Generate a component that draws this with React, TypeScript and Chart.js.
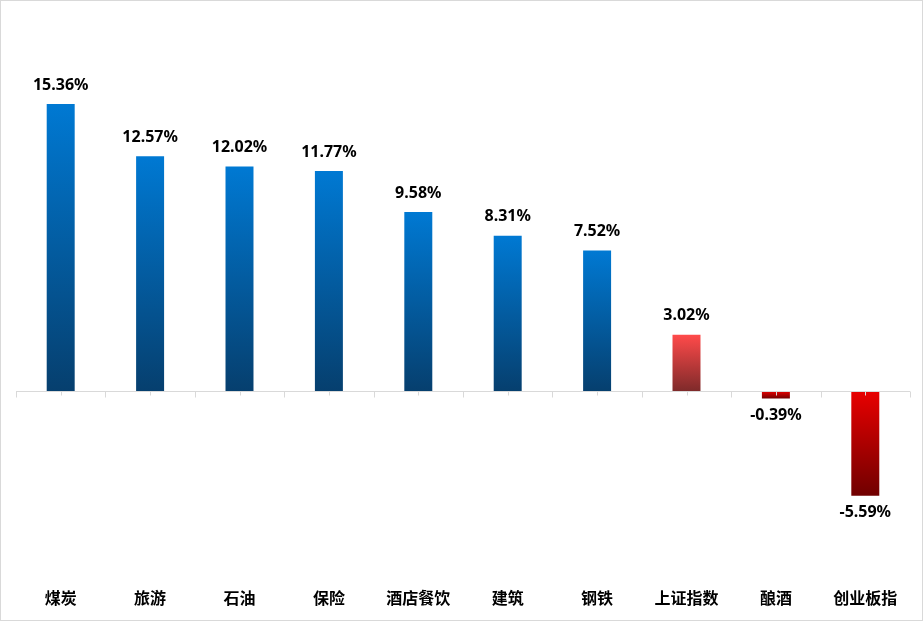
import React, { useEffect, useRef } from "react";
import { Chart, registerables } from "chart.js";

Chart.register(...registerables);

const categories = ["煤炭", "旅游", "石油", "保险", "酒店餐饮", "建筑", "钢铁", "上证指数", "酿酒", "创业板指"];
const changes = [15.36, 12.57, 12.02, 11.77, 9.58, 8.31, 7.52, 3.02, -0.39, -5.59];
const valueLabels = ["15.36%", "12.57%", "12.02%", "11.77%", "9.58%", "8.31%", "7.52%", "3.02%", "-0.39%", "-5.59%"];
const indexCategory = "上证指数";

const W = 924;
const H = 621;

function barFill(ctx: any) {
  const chart = ctx.chart;
  const i = ctx.dataIndex;
  const v = changes[i];
  const yScale = chart.scales?.y;
  if (!yScale || !chart.chartArea) return "#0078D4";
  const y0 = yScale.getPixelForValue(0);
  const y1 = yScale.getPixelForValue(v);
  const g = chart.ctx.createLinearGradient(0, Math.min(y0, y1), 0, Math.max(y0, y1));
  if (categories[i] === indexCategory) {
    g.addColorStop(0, "#FF4A4A");
    g.addColorStop(1, "#7E2A2A");
  } else if (v < 0) {
    g.addColorStop(0, "#E80000");
    g.addColorStop(1, "#700000");
  } else {
    g.addColorStop(0, "#0079D3");
    g.addColorStop(1, "#063F6E");
  }
  return g;
}

const axisPlugin = {
  id: "zeroAxis",
  afterDatasetsDraw(chart: any) {
    const { ctx, scales } = chart;
    const x = scales.x;
    const y = scales.y;
    const y0 = Math.round(y.getPixelForValue(0)) + 0.5;
    const n = categories.length;
    const left = chart.chartArea.left;
    const right = chart.chartArea.right;
    ctx.save();
    ctx.strokeStyle = "#D9D9D9";
    ctx.lineWidth = 1;
    ctx.beginPath();
    ctx.moveTo(left, y0);
    ctx.lineTo(right, y0);
    for (let i = 0; i <= n; i++) {
      const px = Math.round(i === 0 ? left : i === n ? right : (x.getPixelForValue(i - 1) + x.getPixelForValue(i)) / 2) + 0.5;
      ctx.moveTo(px, y0);
      ctx.lineTo(px, y0 + 6);
    }
    for (let i = 0; i < n; i++) {
      const px = Math.round(x.getPixelForValue(i)) + 0.5;
      ctx.moveTo(px, y0);
      ctx.lineTo(px, y0 + 4);
    }
    ctx.stroke();

    // value labels
    ctx.fillStyle = "#000000";
    ctx.font = "bold 16px 'Noto Sans', sans-serif";
    ctx.textAlign = "center";
    ctx.textBaseline = "middle";
    const meta = chart.getDatasetMeta(0);
    meta.data.forEach((bar: any, i: number) => {
      const v = changes[i];
      const yy = v >= 0 ? bar.y - 19 : bar.y + 17;
      ctx.fillText(valueLabels[i], bar.x, yy);
    });
    ctx.restore();
  },
};

const borderPlugin = {
  id: "frame",
  afterDraw(chart: any) {
    const ctx = chart.ctx;
    ctx.save();
    ctx.strokeStyle = "#D9D9D9";
    ctx.lineWidth = 1;
    ctx.strokeRect(0.5, 0.5, W - 2, H - 1);
    ctx.restore();
  },
};

export default function App() {
  const ref = useRef<HTMLCanvasElement>(null);
  useEffect(() => {
    document.body.style.margin = "0";
    if (!ref.current) return;
    const chart = new Chart(ref.current, {
      type: "bar",
      data: {
        labels: categories,
        datasets: [
          {
            data: changes,
            backgroundColor: barFill as any,
            borderWidth: 0,
            categoryPercentage: 1,
            barPercentage: 0.313,
          },
        ],
      },
      options: {
        animation: false,
        responsive: false,
        maintainAspectRatio: false,
        layout: { padding: { left: 16, right: 14, top: 40, bottom: 10 } },
        plugins: { legend: { display: false }, tooltip: { enabled: false } },
        scales: {
          x: {
            grid: { display: false, drawTicks: false },
            border: { display: false },
            ticks: {
              color: "#000000",
              font: { family: "'Noto Sans CJK SC', sans-serif", size: 16, weight: "bold" },
              padding: 3,
              maxRotation: 0,
              autoSkip: false,
            },
          },
          y: {
            display: false,
            min: -10.4,
            max: 18.78,
          },
        },
      },
      plugins: [axisPlugin, borderPlugin],
    });
    return () => chart.destroy();
  }, []);
  return (
    <div style={{ width: W, height: H, background: "#ffffff" }}>
      <canvas ref={ref} width={W} height={H} style={{ display: "block" }} />
    </div>
  );
}
